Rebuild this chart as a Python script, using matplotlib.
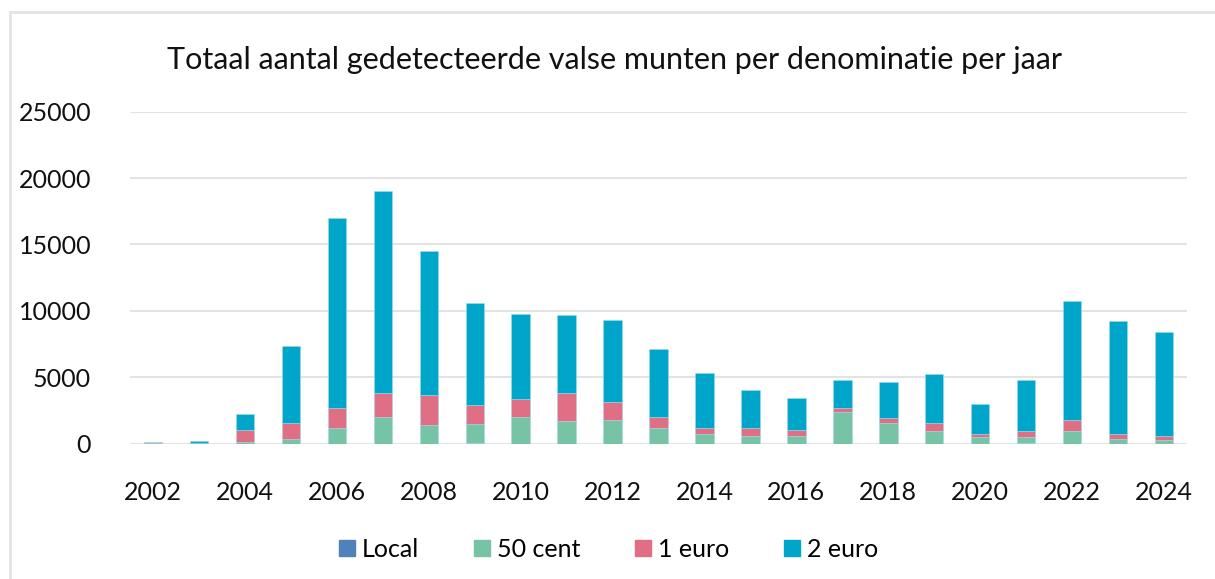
import matplotlib
matplotlib.use("Agg")
import matplotlib.pyplot as plt
from matplotlib.lines import Line2D
import numpy as np

years = list(range(2002, 2025))
local = [0, 0, 0, 0, 0, 0, 0, 50, 0, 0, 0, 0, 0, 0, 0, 0, 0, 0, 0, 50, 0, 0, 0]
cent50 = [10, 20, 80, 320, 1170, 2000, 1400, 1400, 2000, 1660, 1780, 1150,
          680, 570, 570, 2380, 1530, 930, 470, 450, 930, 320, 250]
euro1 = [80, 40, 970, 1210, 1470, 1840, 2290, 1480, 1340, 2180, 1330, 850,
         470, 580, 480, 260, 370, 600, 230, 480, 850, 380, 320]
euro2 = [10, 140, 1210, 5850, 14380, 15210, 10840, 7660, 6450, 5870, 6230, 5150,
         4200, 2920, 2410, 2130, 2770, 3740, 2280, 3790, 8990, 8560, 7860]

series = [("Local", local, "#4f81bd"), ("50 cent", cent50, "#76c4a5"),
          ("1 euro", euro1, "#e06e84"), ("2 euro", euro2, "#00a5ca")]

plt.rcParams['font.family'] = ['Lato', 'DejaVu Sans']

fig = plt.figure(figsize=(12.15, 5.79), dpi=100)
ax = fig.add_axes([0.107, 0.234, 0.870, 0.573])

bottom = np.zeros(len(years))
for name, vals, col in series:
    ax.bar(years, vals, width=0.4, bottom=bottom, color=col, label=name,
           edgecolor="#9fd9e6", linewidth=0.4)
    bottom += np.array(vals)

ax.set_xlim(2001.5, 2024.5)
ax.set_ylim(0, 25000)
ax.set_yticks(range(0, 25001, 5000))
ax.set_xticks(years[::2])
ax.tick_params(axis="both", length=0, labelsize=18, colors="#111111")
ax.tick_params(axis="x", pad=27)
ax.tick_params(axis="y", pad=28)
ax.grid(axis="y", color="#e3e3e3", linewidth=1.5)
ax.set_axisbelow(True)
for s in ax.spines.values():
    s.set_visible(False)

fig.text(0.506, 0.897, "Totaal aantal gedetecteerde valse munten per denominatie per jaar",
         ha="center", va="center", fontsize=22, color="#111111")

handles = [Line2D([], [], marker="s", linestyle="none", markersize=12,
                  markerfacecolor=c, markeredgecolor=c) for _, _, c in series]
fig.legend(handles, [n for n, _, _ in series], loc="center", bbox_to_anchor=(0.5, 0.051),
           ncol=4, frameon=False, fontsize=18, handlelength=0.8, handletextpad=0.2,
           columnspacing=2.1)

# light frame (top and left edge visible in reference)
fig.add_artist(Line2D([10 / 1215, 10 / 1215], [0, 1 - 12 / 579], transform=fig.transFigure,
                      color="#e3e3e3", linewidth=2))
fig.add_artist(Line2D([10 / 1215, 1], [1 - 12 / 579, 1 - 12 / 579], transform=fig.transFigure,
                      color="#e3e3e3", linewidth=2))

fig.savefig("out.png", dpi=100)
